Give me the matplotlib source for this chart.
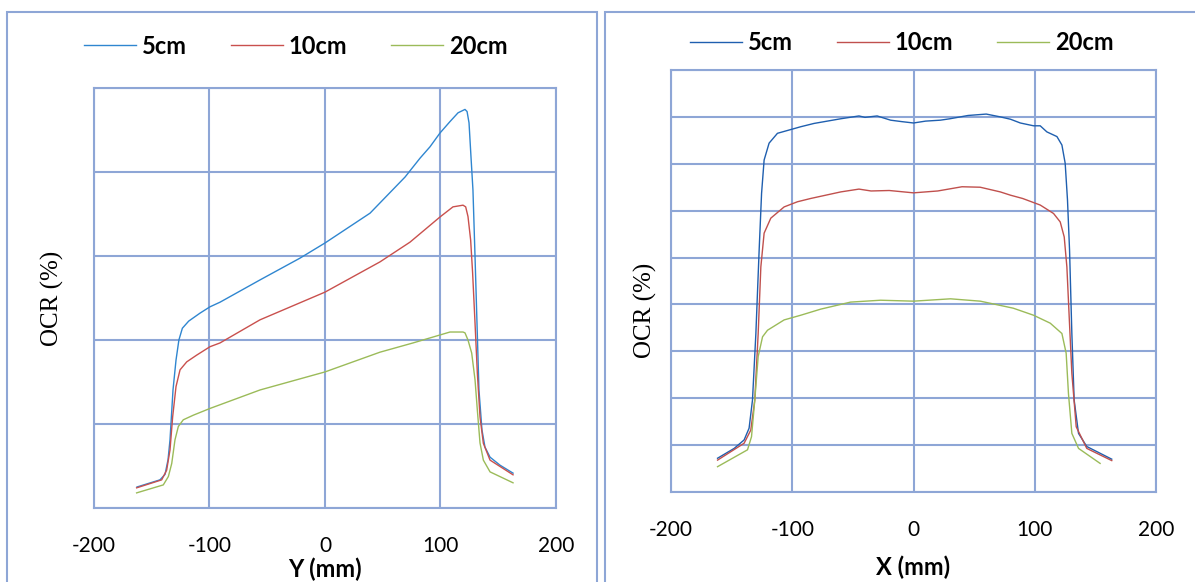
import matplotlib.pyplot as plt
from matplotlib.patches import Rectangle

plt.rcParams['axes.unicode_minus'] = False

# left panel: profile along Y (mm)
y_pos_5 = [-162.8, -142.9, -138.5, -135.9, -134.2, -131.6, -129.0, -126.5, -123.5, -118.0, -108.2, -99.6, -90.9,
           -56.3, -21.6, 0, 39.0, 69.3, 82.3, 90.9, 99.6, 108.2, 115.2, 121.2, 123.0, 124.7, 126.4, 128.1, 129.9,
           131.6, 133.3, 135.9, 138.5, 142.9, 151.5, 162.8]
y_ocr_5 = [5.0, 6.7, 8.0, 11.5, 16.2, 28.1, 35.2, 40.0, 42.8, 44.5, 46.4, 47.9, 49.0,
           54.3, 59.5, 63.1, 70.2, 78.8, 83.3, 86.0, 89.3, 92.0, 94.1, 94.9, 94.4, 91.7, 83.6, 75.7, 59.8,
           44.0, 28.1, 18.6, 14.5, 12.1, 10.2, 8.3]
y_pos_10 = [-163.1, -141.4, -137.1, -134.2, -131.9, -129.0, -125.5, -119.7, -111.1, -99.6, -90.9, -56.3, 0, 47.6,
            73.6, 99.6, 110.8, 119.5, 121.8, 123.8, 126.1, 127.8, 129.9, 131.9, 134.2, 137.1, 142.9, 162.8]
y_ocr_10 = [4.8, 6.7, 9.0, 13.8, 21.7, 28.9, 32.9, 34.8, 36.4, 38.4, 39.3, 44.8, 51.4, 58.6,
            63.3, 69.3, 71.7, 72.1, 71.7, 69.4, 63.8, 56.0, 44.0, 32.1, 21.7, 15.4, 11.4, 7.9]
y_pos_20 = [-163.1, -140.0, -135.6, -132.7, -129.9, -127.0, -122.7, -114.0, -99.6, -56.3, 0, 47.6, 76.2, 99.6,
            108.2, 119.5, 121.2, 123.8, 127.0, 129.9, 131.9, 134.2, 137.1, 142.9, 162.8]
y_ocr_20 = [3.6, 5.5, 7.5, 10.6, 16.2, 19.4, 21.0, 22.1, 23.7, 28.1, 32.4, 37.1, 39.3, 41.2,
            41.9, 41.9, 41.7, 40.0, 36.9, 30.5, 23.3, 15.5, 11.4, 8.6, 6.0]

# right panel: profile along X (mm)
x_pos_5 = [-161.6, -147.9, -139.7, -135.6, -132.8, -130.0, -127.3, -125.3, -123.2, -119.1, -112.2, -101.2, -93.0,
           -82.1, -60, -45, -40, -30, -18.9, -10, 0, 10, 22.2, 30, 45, 60, 71.6, 80, 88.1, 99.0, 104.5, 110.0,
           118.3, 122.4, 125.1, 127.0, 128.7, 130.6, 132.5, 136.1, 142.9, 163.5]
x_ocr_5 = [7.2, 9.3, 11.1, 13.6, 19.6, 33.8, 51.6, 63.7, 70.8, 74.4, 76.5, 77.3, 77.9,
           78.6, 79.6, 80.2, 79.9, 80.2, 79.3, 79.0, 78.7, 79.1, 79.3, 79.6, 80.3, 80.6, 80.0, 79.5, 78.7, 78.1,
           78.1, 76.8, 75.8, 74.0, 70.1, 62.3, 51.6, 33.8, 19.6, 12.5, 9.7, 7.0]
x_pos_10 = [-161.6, -139.7, -134.2, -130.9, -128.1, -125.9, -123.2, -117.7, -106.7, -95.7, -84.8, -60, -45, -35,
            -20, 0, 20, 40, 55, 71.6, 80, 90, 104.5, 115.5, 121.0, 124.3, 126.5, 128.4, 130.6, 134.2, 142.9, 163.5]
x_ocr_10 = [6.8, 10.4, 13.2, 19.6, 33.8, 48.0, 55.2, 58.4, 60.8, 61.9, 62.6, 64.0, 64.6, 64.2,
            64.3, 63.8, 64.2, 65.1, 65.0, 64.0, 63.3, 62.6, 61.2, 59.4, 57.6, 54.4, 48.0, 37.4, 25.3, 13.9, 9.3, 6.7]
x_pos_20 = [-161.6, -136.9, -133.6, -130.9, -128.1, -124.5, -120.4, -106.7, -93.0, -76.5, -51.9, -27.2, 0, 30.5,
            55.1, 82.3, 99.0, 112.8, 122.4, 125.9, 127.8, 130.6, 136.1, 153.9]
x_ocr_20 = [5.4, 9.0, 11.8, 19.6, 28.9, 33.1, 34.5, 36.7, 37.7, 39.0, 40.5, 40.9, 40.7, 41.2,
            40.7, 39.2, 37.7, 36.0, 33.8, 29.6, 21.0, 12.5, 9.3, 6.1]

labels = ['5cm', '10cm', '20cm']
ticks = [-200, -100, 0, 100, 200]

grid_col = '#8EA6D6'
W, H = 1195, 582

fig = plt.figure(figsize=(W / 100, H / 100), dpi=100)

# outer chart frames
for x0, x1 in [(7, 597), (605, 1200)]:
    fig.patches.append(Rectangle((x0 / W, -0.05), (x1 - x0) / W, 1 - 12 / H + 0.05,
                                 transform=fig.transFigure, fill=False,
                                 edgecolor=grid_col, lw=1.5))


def make_axes(box, ylim, ystep, series, colors, xlabel, xlab_y, ylab_pos, leg_y, leg_x):
    l, r, t, b = box
    ax = fig.add_axes([l / W, 1 - b / H, (r - l) / W, (b - t) / H])
    lines = []
    for (xs, ys), c, lab in zip(series, colors, labels):
        ln, = ax.plot(xs, ys, color=c, lw=1.0, label=lab)
        lines.append(ln)
    ax.set_xlim(-200, 200)
    ax.set_ylim(0, ylim)
    ax.set_xticks(ticks)
    ax.set_yticks(range(0, ylim + 1, ystep))
    ax.set_yticklabels([])
    ax.grid(True, color=grid_col, lw=1.5)
    ax.set_axisbelow(True)
    for s in ax.spines.values():
        s.set_color(grid_col)
        s.set_linewidth(1.5)
    ax.tick_params(length=0, pad=20, labelsize=15)
    for lab in ax.get_xticklabels():
        lab.set_fontfamily('Lato')
    fig.text((l + r) / 2 / W, 1 - xlab_y / H, xlabel, fontsize=17, fontweight='bold',
             family='Lato', ha='center', va='center')
    fig.text(ylab_pos[0] / W, 1 - ylab_pos[1] / H, 'OCR (%)', fontsize=18,
             family='Liberation Serif', rotation=90, ha='center', va='center')
    fig.legend(lines, labels, loc='center left', bbox_to_anchor=(leg_x / W, 1 - leg_y / H),
               ncol=3, frameon=False, handlelength=2.2, handletextpad=0.25,
               columnspacing=1.85, borderaxespad=0,
               prop={'family': 'Lato', 'weight': 'bold', 'size': 17})
    return ax


make_axes((94, 556, 88, 508), 100, 20,
          [(y_pos_5, y_ocr_5), (y_pos_10, y_ocr_10), (y_pos_20, y_ocr_20)],
          ['#2F86D0', '#C9504D', '#9BBB59'], 'Y (mm)', 569, (52, 298), 46, 75)
make_axes((671, 1156, 70, 492), 90, 10,
          [(x_pos_5, x_ocr_5), (x_pos_10, x_ocr_10), (x_pos_20, x_ocr_20)],
          ['#1F5FAF', '#C0504D', '#9BBB59'], 'X (mm)', 567, (645, 310), 43, 681)

fig.savefig('out.png', dpi=100)
